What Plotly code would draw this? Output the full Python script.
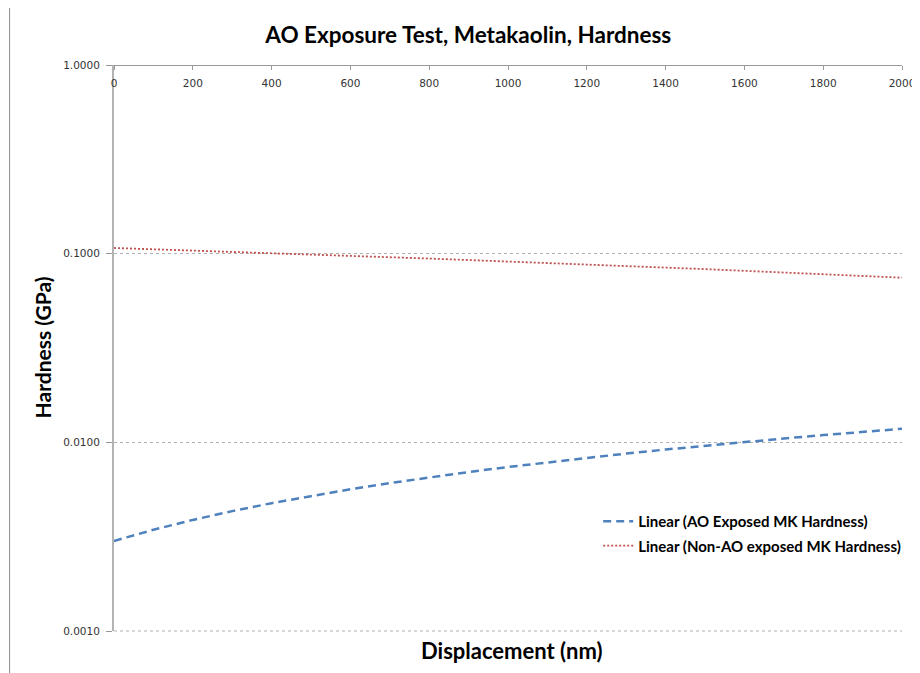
import plotly.graph_objects as go

# Data
displacement_nm = [0, 100, 200, 300, 400, 500, 600, 700, 800, 900, 1000,
                   1100, 1200, 1300, 1400, 1500, 1600, 1700, 1800, 1900, 2000]
ao_exposed_hardness = [0.00300, 0.00344, 0.00388, 0.00432, 0.00476, 0.00520,
                       0.00564, 0.00608, 0.00652, 0.00696, 0.00740, 0.00784,
                       0.00828, 0.00872, 0.00916, 0.00960, 0.01004, 0.01048,
                       0.01092, 0.01136, 0.01180]
non_ao_hardness = [0.1072, 0.1056, 0.1039, 0.1023, 0.1007, 0.0990, 0.0974,
                   0.0958, 0.0942, 0.0925, 0.0909, 0.0893, 0.0876, 0.0860,
                   0.0844, 0.0828, 0.0811, 0.0795, 0.0779, 0.0762, 0.0746]
series_names = ["Linear (AO Exposed MK Hardness)",
                "Linear (Non-AO exposed MK Hardness)"]
y_tickvals = [0.001, 0.01, 0.1, 1.0]
y_ticktext = ["0.0010", "0.0100", "0.1000", "1.0000"]
x_tickvals = [0, 200, 400, 600, 800, 1000, 1200, 1400, 1600, 1800, 2000]

FONT = "Lato, Open Sans, sans-serif"

fig = go.Figure()
fig.add_trace(go.Scatter(
    x=displacement_nm, y=ao_exposed_hardness, mode="lines",
    name=series_names[0], legendgroup="a",
    line=dict(color="#4f81bd", width=2.5, dash="8px,5px"),
))
fig.add_trace(go.Scatter(
    x=displacement_nm, y=non_ao_hardness, mode="lines",
    name=series_names[1], legendgroup="b",
    line=dict(color="#c0504d", width=1.8, dash="2px,2px"),
))

# page body has an 8px margin: work in window pixels, shift by 8
OFF = 8
W, H = 920 - OFF, 673 - OFF
L, R, T, B = 113.5 - OFF, 902 - OFF, 65.3 - OFF, 631 - OFF


def px(xw):
    return (xw - OFF - L) / (R - L)


def py(yw):
    return (B - (yw - OFF)) / (B - T)


fig.update_layout(
    width=W, height=H,
    margin=dict(l=L, r=W - R, t=T, b=H - B, pad=0, autoexpand=False),
    paper_bgcolor="white", plot_bgcolor="white",
    showlegend=True,
    legend=dict(x=px(598), y=py(505), xanchor="left", yanchor="top",
                bgcolor="rgba(0,0,0,0)",
                font=dict(family=FONT, size=15, color="black", weight="bold"),
                itemwidth=30, tracegroupgap=2),
    title=dict(text="<b>AO Exposure Test, Metakaolin, Hardness</b>",
               x=px(468), xref="paper", xanchor="center",
               y=1 - (35 - OFF) / H, yref="container", yanchor="middle",
               font=dict(family=FONT, size=22.5, color="black")),
    xaxis=dict(range=[0, 2000], side="bottom", anchor="free", position=1,
               tickvals=x_tickvals, ticklabelstandoff=4,
               ticks="outside", ticklen=4, tickcolor="#999999",
               automargin=False,
               showline=True, linecolor="#999999", linewidth=1,
               showgrid=False, zeroline=False,
               tickfont=dict(family="DejaVu Sans", size=10.5, color="#333333")),
    yaxis=dict(type="log", range=[-3, 0], tickvals=y_tickvals,
               ticktext=y_ticktext, ticks="outside", ticklen=6,
               ticklabelstandoff=4,
               tickcolor="#999999", automargin=False,
               showline=True, linecolor="#b3b3b3", linewidth=2,
               showgrid=True, gridcolor="#b0b0b0", griddash="dot",
               gridwidth=1, zeroline=False,
               tickfont=dict(family="DejaVu Sans", size=10.5, color="#333333")),
    shapes=[
        dict(type="rect", xref="paper", yref="paper",
             x0=px(9), x1=1.3, y0=-0.3, y1=py(7),
             line=dict(color="#8c8c8c", width=1), fillcolor="rgba(0,0,0,0)",
             layer="below"),
        dict(type="line", xref="paper", yref="paper", x0=0, x1=1, y0=0, y1=0,
             line=dict(color="#b0b0b0", width=1, dash="dot")),
    ],
    annotations=[
        dict(text="<b>Displacement (nm)</b>", xref="paper", yref="paper",
             x=px(512), y=py(650),
             xanchor="center", yanchor="middle", showarrow=False,
             font=dict(family=FONT, size=22, color="black")),
        dict(text="<b>Hardness (GPa)</b>", xref="paper", yref="paper",
             x=px(42), y=py(348), textangle=-90,
             xanchor="center", yanchor="middle", showarrow=False,
             font=dict(family=FONT, size=21, color="black")),
    ],
)

fig.write_html("out.html")
